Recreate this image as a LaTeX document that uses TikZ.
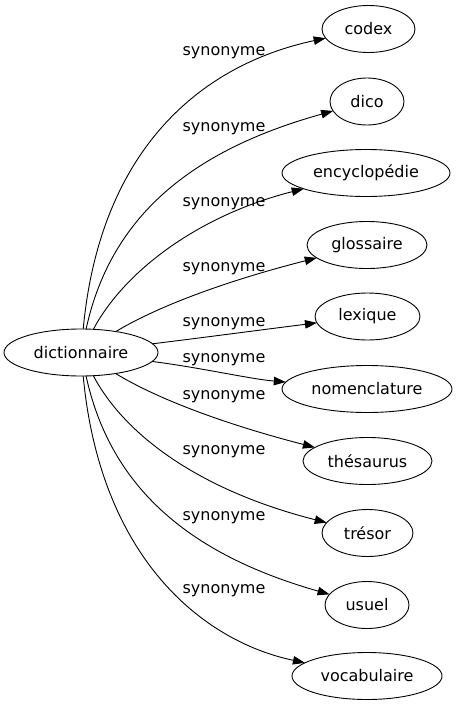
\documentclass[tikz,border=0pt]{standalone}
\usepackage{fontspec}
\setmainfont{DejaVu Sans}
\usetikzlibrary{shapes.geometric,arrows.meta}
\begin{document}
\begin{tikzpicture}[x=1pt,y=-1pt,
  word/.style={ellipse,draw,line width=0.9pt,inner sep=0pt,outer sep=0pt,minimum height=47pt,font=\fontsize{16}{19}\selectfont},
  lbl/.style={inner sep=0pt,anchor=base,font=\fontsize{16}{19}\selectfont},
  syn/.style={line width=0.9pt,-{Triangle[length=12pt,width=8.5pt]}}]
\useasboundingbox (0,0) rectangle (457,707);
% nodes
\node[word,minimum width=154pt] (d) at (81,352.5) {dictionnaire};
\node[word,minimum width=93pt]  (codex) at (368.5,29) {codex};
\node[word,minimum width=74pt]  (dico) at (367,101.5) {dico};
\node[word,minimum width=168pt] (ency) at (366,173) {encyclopédie};
\node[word,minimum width=120pt] (glos) at (367,245) {glossaire};
\node[word,minimum width=105pt] (lexi) at (367.5,316.5) {lexique};
\node[word,minimum width=170pt] (nome) at (367,389) {nomenclature};
\node[word,minimum width=129pt] (thes) at (367.5,461) {thésaurus};
\node[word,minimum width=91pt]  (treso) at (367.5,533) {trésor};
\node[word,minimum width=84pt]  (usuel) at (367,605) {usuel};
\node[word,minimum width=150pt] (voca) at (367,676) {vocabulaire};
% labels
\node[lbl] (l1) at (224,55.8) {synonyme};
\node[lbl] (l2) at (224,131) {synonyme};
\node[lbl] (l3) at (224,206) {synonyme};
\node[lbl] (l4) at (224,271) {synonyme};
\node[lbl] (l5) at (224,326) {synonyme};
\node[lbl] (l6) at (224,362.3) {synonyme};
\node[lbl] (l7) at (224,399.3) {synonyme};
\node[lbl] (l8) at (224,454.3) {synonyme};
\node[lbl] (l9) at (224,520.3) {synonyme};
\node[lbl] (l10) at (224,593.3) {synonyme};
% edges
\draw[syn] (d) .. controls (100,150) and (200,65) .. (codex);
\draw[syn] (d) .. controls (112,210) and (200,148) .. (dico);
\draw[syn] (d) .. controls (125,270) and (200,215) .. (ency);
\draw[syn] (d) .. controls (160,305) and (230,280) .. (glos);
\draw[syn] (d) .. controls (200,338) and (260,330) .. (lexi);
\draw[syn] (d) .. controls (200,367.5) and (250,379) .. (nome);
\draw[syn] (d) .. controls (160,400.5) and (230,425.5) .. (thes);
\draw[syn] (d) .. controls (125,435.5) and (200,490.5) .. (treso);
\draw[syn] (d) .. controls (112,495.5) and (200,557.5) .. (usuel);
\draw[syn] (d) .. controls (100,555.5) and (200,640.5) .. (voca);
\end{tikzpicture}
\end{document}
